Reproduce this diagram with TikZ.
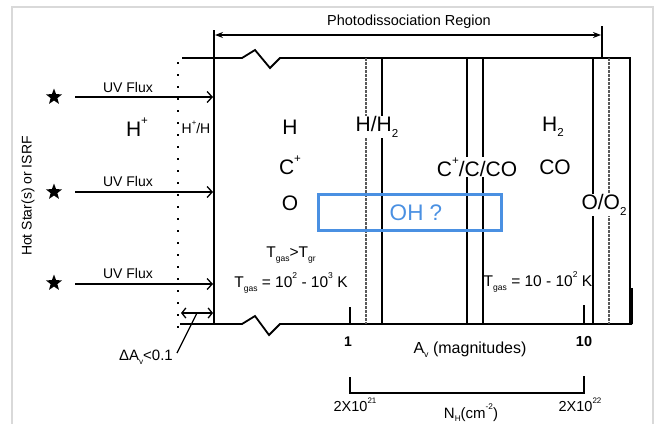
\documentclass[tikz,border=0pt]{standalone}
\usepackage{fontspec}
\setmainfont{Liberation Sans}
\usetikzlibrary{arrows.meta,shapes.geometric}
\definecolor{ohblue}{RGB}{74,144,226}
\newcommand{\mysup}[1]{\raisebox{0.55em}{\scalebox{0.55}{#1}}}
\newcommand{\mysub}[1]{\raisebox{-0.25em}{\scalebox{0.55}{#1}}}
\begin{document}
\begin{tikzpicture}[x=1pt,y=-1pt,
  frame/.style={draw=black!15, line width=1.5pt},
  boxline/.style={line width=1.8pt},
  band/.style={line width=1.3pt},
  bandd/.style={line width=1.3pt, draw=black!65, dash pattern=on 3pt off 1pt},
  big/.style={font=\fontsize{21}{24}\selectfont, inner sep=1pt},
  mid/.style={font=\fontsize{14}{16}\selectfont, inner sep=1pt},
  lab/.style={font=\fontsize{15.5}{18}\selectfont, inner sep=1pt},
  gap/.style={fill=white},
  uvarrow/.style={line width=1.3pt, -{Straight Barb[length=5pt,width=11pt]}},
  starnode/.style={star, star points=5, star point ratio=2.4, fill=black, minimum size=17pt, inner sep=0pt}
]
\useasboundingbox (0,0) rectangle (663,423);
% outer frame
\draw[frame] (12,440) -- (12,7) -- (653,7) -- (653,440);

% main region box
\coordinate (tl) at (182,58);
\coordinate (tr) at (630,58);
\coordinate (br) at (632,324);
\coordinate (bl) at (180,324);
\coordinate (lt) at (214,30);
\coordinate (lb) at (214,324);
\draw[boxline] (tl) -- (242,58) -- (255,50) -- (270,68) -- (280,58) -- (tr) -- (630,324);
\draw[boxline] (bl) -- (242,324) -- (255,316) -- (269,335) -- (280,324) -- (br);
\draw[line width=3pt] (631,288) -- (631,324);
\draw[boxline] (lt) -- (lb);

% photodissociation arrow
\coordinate (pa) at (215,35);
\coordinate (pb) at (601,35);
\coordinate (pt1) at (602,26);
\coordinate (pt2) at (602,57);
\draw[line width=1.3pt, {Stealth[length=8pt,width=6pt]}-{Stealth[length=8pt,width=6pt]}] (pa) -- (pb);
\draw[boxline] (pt1) -- (pt2);
\node[mid, font=\fontsize{14.5}{16}\selectfont] (pdr) at (409,22) {Photodissociation Region};

% vertical transition bands
\foreach \xx in {382,467,483,593} {\draw[band] (\xx,58) -- (\xx,324);}
\foreach \xx in {366,609} {\draw[bandd] (\xx,58) -- (\xx,324);}

% dotted ionisation front
\draw[line width=2pt, dash pattern=on 2pt off 10pt] (178,62) -- (178,330);

% stars and UV arrows
\node[starnode] (s1) at (54,97) {};
\node[starnode] (s2) at (54,192) {};
\node[starnode] (s3) at (54,283) {};
\coordinate (u1) at (75,97);  \coordinate (v1) at (213,97);
\coordinate (u2) at (75,192); \coordinate (v2) at (213,192);
\coordinate (u3) at (75,284); \coordinate (v3) at (213,284);
\draw[uvarrow] (u1) -- (v1);
\draw[uvarrow] (u2) -- (v2);
\draw[uvarrow] (u3) -- (v3);
\node[mid] (uv1) at (128,87) {UV Flux};
\node[mid] (uv2) at (128,181) {UV Flux};
\node[mid] (uv3) at (128,273) {UV Flux};
\node[mid, rotate=90] (hot) at (28,196) {Hot Star(s) or ISRF};

% species labels
\node[big] (hp) at (137,127) {H\mysup{+}};
\node[mid] (hph) at (196,127) {H\mysup{+}/H};
\node[big] (h) at (290,127) {H};
\node[big] (cp) at (290,165) {C\mysup{+}};
\node[big] (o) at (290,203) {O};
\node[big, gap] (hh2) at (377,127) {H/H\mysub{2}};
\node[big] (h2) at (553,127) {H\mysub{2}};
\node[big, gap] (ccco) at (477,167) {C\mysup{+}/C/CO};
\node[big] (co) at (555,167) {CO};
\node[big, gap] (oo2) at (604,205) {O/O\mysub{2}};

% OH box
\node[draw=ohblue, line width=3pt, minimum width=183pt, minimum height=36pt, inner sep=0pt] (ohbox) at (410,212.5) {};
\node[big, font=\fontsize{22.5}{26}\selectfont, text=ohblue] (oh) at (416,213) {OH ?};

% temperatures
\node[lab] (tgt) at (291,255) {T\mysub{gas}>T\mysub{gr}};
\node[lab] (tw) at (291,283) {T\mysub{gas} = 10\mysup{2} - 10\mysup{3} K};
\node[lab] (tc) at (538,282) {T\mysub{gas} = 10 - 10\mysup{2} K};

% delta Av
\coordinate (da) at (181,313);
\coordinate (db) at (213,313);
\draw[line width=1.3pt, {Straight Barb[length=4pt,width=10pt]}-{Straight Barb[length=4pt,width=10pt]}] (da) -- (db);
\node[mid, font=\fontsize{15}{17}\selectfont, anchor=east] (dav) at (174,357) {ΔA\mysub{v}<0.1};
\coordinate (dp) at (197,313);
\coordinate (dq) at (177,353);
\draw[line width=1.3pt] (dq) -- (dp);

% A_v axis
\coordinate (t1a) at (350,307); \coordinate (t1b) at (350,324);
\coordinate (t2a) at (584,305); \coordinate (t2b) at (584,324);
\draw[line width=1.5pt] (t1a) -- (t1b);
\draw[line width=1.5pt] (t2a) -- (t2b);
\node[mid, font=\bfseries\fontsize{14}{16}\selectfont] (one) at (348,342) {1};
\node[mid, font=\bfseries\fontsize{14.5}{16}\selectfont] (ten) at (584,342) {10};
\node[mid, font=\fontsize{16}{18}\selectfont] (av) at (470,350) {A\mysub{v} (magnitudes)};

% N_H bracket
\coordinate (b1) at (350,377); \coordinate (b2) at (350,393);
\coordinate (b3) at (584,393); \coordinate (b4) at (584,376);
\draw[line width=1.6pt] (b1) -- (b2) -- (b3) -- (b4);
\node[mid, font=\fontsize{14.5}{16}\selectfont] (n1) at (355,405) {2X10\mysup{21}};
\node[mid, font=\fontsize{14.5}{16}\selectfont] (n2) at (580,405) {2X10\mysup{22}};
\node[mid, font=\fontsize{15}{17}\selectfont] (nh) at (471,413) {N\mysub{H}(cm\mysup{-2})};
\end{tikzpicture}
\end{document}
